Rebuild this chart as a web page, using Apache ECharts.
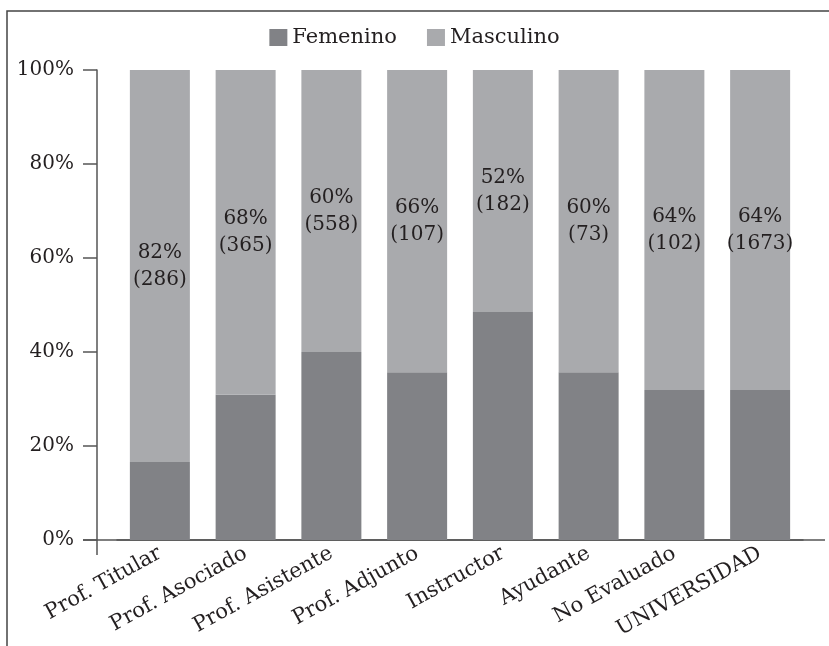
<!DOCTYPE html>
<html lang="es">
<head>
    <meta charset="UTF-8">
    <script src="https://cdn.jsdelivr.net/npm/echarts@6/dist/echarts.min.js"></script>
    <style>
        html, body { margin: 0; padding: 0; background: #fff; }
        #main { width: 829px; height: 646px; }
    </style>
</head>
<body>
    <div id="main"></div>
<script>
    // datos
    var categorias = ['Prof. Titular', 'Prof. Asociado', 'Prof. Asistente', 'Prof. Adjunto',
        'Instructor', 'Ayudante', 'No Evaluado', 'UNIVERSIDAD'];
    var femenino = [16.6, 30.9, 40.0, 35.7, 48.5, 35.7, 31.9, 31.9];
    var masculino = [83.4, 69.1, 60.0, 64.3, 51.5, 64.3, 68.1, 68.1];
    // etiquetas de los bares masculinos
    var pctMasculino = [82, 68, 60, 66, 52, 60, 64, 64];
    var nMasculino = [286, 365, 558, 107, 182, 73, 102, 1673];
    var yTicks = [0, 20, 40, 60, 80, 100];

    var txt = '#231f20';
    var ejes = '#555555';
    var fuente = 'DejaVu Serif';

    var myChart = echarts.init(document.getElementById('main'));

    var option = {
        animation: false,
        backgroundColor: '#fff',
        legend: {
            top: 22,
            left: 'center',
            icon: 'rect',
            itemWidth: 18,
            itemHeight: 17,
            itemGap: 30,
            textStyle: { fontFamily: fuente, fontSize: 21, color: txt },
            data: ['Femenino', 'Masculino']
        },
        grid: { left: 117, right: 26, top: 70, bottom: 106 },
        xAxis: {
            type: 'category',
            data: categorias,
            axisTick: { show: false },
            axisLine: { show: true, lineStyle: { color: ejes, width: 1.5 } },
            axisLabel: {
                interval: 0,
                rotate: 29,
                margin: 12,
                fontFamily: fuente,
                fontSize: 21,
                color: txt
            }
        },
        yAxis: {
            type: 'value',
            min: yTicks[0],
            max: yTicks[yTicks.length - 1],
            interval: 20,
            offset: 20,
            axisLine: { show: true, lineStyle: { color: ejes, width: 1.5 } },
            axisTick: { show: true, length: 14, lineStyle: { color: ejes, width: 1.5 } },
            axisLabel: {
                formatter: '{value}%',
                margin: 23,
                fontFamily: fuente,
                fontSize: 20,
                color: txt
            },
            splitLine: { show: false }
        },
        series: [
            {
                name: 'Femenino',
                type: 'bar',
                stack: 'total',
                barWidth: 60,
                itemStyle: { color: '#818286' },
                data: femenino
            },
            {
                name: 'Masculino',
                type: 'bar',
                stack: 'total',
                barWidth: 60,
                itemStyle: { color: '#a9aaad' },
                label: {
                    show: true,
                    position: 'inside',
                    fontFamily: fuente,
                    fontSize: 20,
                    lineHeight: 27,
                    color: txt,
                    formatter: function (p) {
                        return pctMasculino[p.dataIndex] + '%\n(' + nMasculino[p.dataIndex] + ')';
                    }
                },
                data: masculino
            }
        ]
    };
    myChart.setOption(option);

    // marco y prolongacion de los ejes
    var y0 = myChart.convertToPixel({ yAxisIndex: 0 }, 0);
    myChart.setOption({
        graphic: [
            {
                type: 'rect',
                shape: { x: 7, y: 11, width: 900, height: 700 },
                style: { fill: 'none', stroke: '#444', lineWidth: 1.5 },
                silent: true
            },
            {
                type: 'line',
                shape: { x1: 83, y1: y0, x2: 825, y2: y0 },
                style: { stroke: ejes, lineWidth: 1.5 },
                silent: true
            },
            {
                type: 'line',
                shape: { x1: 97, y1: y0, x2: 97, y2: y0 + 15 },
                style: { stroke: ejes, lineWidth: 1.5 },
                silent: true
            }
        ]
    });
</script>
</body>
</html>
